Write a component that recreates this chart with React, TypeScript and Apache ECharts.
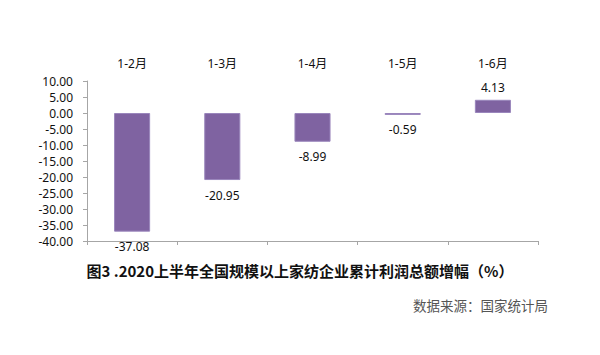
import React, { useEffect, useRef } from "react";
import * as echarts from "echarts";

const categories = ["1-2月", "1-3月", "1-4月", "1-5月", "1-6月"];
const values = [-37.08, -20.95, -8.99, -0.59, 4.13];
const titleText = "图3 .2020上半年全国规模以上家纺企业累计利润总额增幅（%）";
const sourceText = "数据来源：国家统计局";

export default function App() {
  const ref = useRef<HTMLDivElement>(null);
  useEffect(() => {
    if (!ref.current) return;
    const chart = echarts.init(ref.current, undefined, { renderer: "svg" });
    const font = "'Noto Sans', 'Noto Sans CJK SC', sans-serif";
    chart.setOption({
      animation: false,
      textStyle: { fontFamily: font },
      grid: { left: 87, right: 62, top: 81, bottom: 114 },
      xAxis: [
        {
          type: "category",
          data: categories,
          position: "top",
          axisLine: { show: false },
          axisTick: { show: false },
          axisLabel: { color: "#111", fontSize: 12, margin: 12, fontFamily: font },
        },
        {
          type: "category",
          data: categories,
          position: "bottom",
          axisLine: { onZero: true, lineStyle: { color: "#A6A6A6", width: 1 } },
          axisTick: { show: true, length: 4, inside: false, lineStyle: { color: "#A6A6A6" } },
          axisLabel: { show: false },
        },
      ],
      yAxis: {
        type: "value",
        min: -40,
        max: 10,
        interval: 5,
        axisLine: { show: true, lineStyle: { color: "#A6A6A6" } },
        axisTick: { show: true, length: 4, lineStyle: { color: "#A6A6A6" } },
        splitLine: { show: false },
        axisLabel: {
          color: "#111",
          fontSize: 12,
          margin: 14,
          fontFamily: font,
          formatter: (v: number) => v.toFixed(2),
        },
      },
      series: [
        {
          type: "bar",
          xAxisIndex: 1,
          data: values.map((v) => ({
            value: v,
            label: {
              show: true,
              position: v < 0 ? "bottom" : "top",
              distance: v < 0 ? 9 : 6,
            },
          })),
          barWidth: "40%",
          itemStyle: { color: "#7F63A1", borderColor: "#9A86BC", borderWidth: 1 },
          label: {
            color: "#111",
            fontSize: 12,
            fontFamily: font,
            formatter: (p: any) => p.value.toFixed(2),
          },
        },
      ],
      graphic: [
        {
          type: "text",
          x: 300,
          y: 270,
          style: {
            text: titleText,
            fontSize: 15,
            fontWeight: "bold",
            fill: "#111",
            align: "center",
            verticalAlign: "middle",
            fontFamily: "'Noto Sans CJK SC', sans-serif",
          },
        },
        {
          type: "text",
          x: 548,
          y: 305,
          style: {
            text: sourceText,
            fontSize: 13.5,
            fill: "#555",
            align: "right",
            verticalAlign: "middle",
            fontFamily: "'Noto Sans CJK SC', sans-serif",
          },
        },
      ],
    });
    return () => chart.dispose();
  }, []);
  return (
    <div
      ref={ref}
      style={{ width: 600, height: 355, position: "absolute", left: 0, top: 0 }}
    />
  );
}
